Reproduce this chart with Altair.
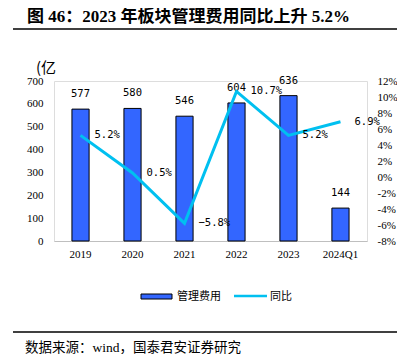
import altair as alt
import pandas as pd

years = ["2019", "2020", "2021", "2022", "2023", "2024Q1"]
expense = [577, 580, 546, 604, 636, 144]
yoy = [5.2, 0.5, -5.8, 10.7, 5.2, 6.9]
left_ticks = [0, 100, 200, 300, 400, 500, 600, 700]
right_ticks = [-8, -6, -4, -2, 0, 2, 4, 6, 8, 10, 12]

title_text = "图 46：2023 年板块管理费用同比上升 5.2%"
source_text = "数据来源：wind，国泰君安证券研究"
unit_text = "(亿"

df = pd.DataFrame({"year": years, "expense": expense, "yoy": yoy})

BAR = "#3366FF"
LINE = "#00C0F0"
SERIF = "Liberation Serif, Times New Roman, serif"
MONO = "DejaVu Sans Mono, monospace"
CJK = "Liberation Serif, Noto Sans CJK SC, sans-serif"

xenc = alt.X("year:N", sort=years, title=None,
             scale=alt.Scale(paddingInner=0.67, paddingOuter=0.345),
             axis=alt.Axis(labelAngle=0, ticks=False, domainColor="#BFBFBF",
                           labelFont=SERIF, labelFontSize=11, labelColor="#000",
                           labelPadding=7))

yl = alt.Y("expense:Q", title=None,
           scale=alt.Scale(domain=[0, 700], nice=False),
           axis=alt.Axis(values=left_ticks, grid=False, ticks=False, domain=False,
                         labelFont=SERIF, labelFontSize=11, labelColor="#000",
                         labelPadding=11, orient="left"))

yr = alt.Y("yoy:Q", title=None,
           scale=alt.Scale(domain=[-8, 12], nice=False),
           axis=alt.Axis(values=right_ticks, grid=False, ticks=False, domain=False,
                         labelFont=SERIF, labelFontSize=11, labelColor="#000",
                         labelPadding=10, orient="right",
                         labelExpr="datum.value + '%'"))

base = alt.Chart(df)

bars = base.mark_bar(color=BAR, stroke="#000", strokeWidth=1).encode(x=xenc, y=yl)
bar_labels = base.mark_text(font=MONO, fontSize=10.5, baseline="middle", dy=-15,
                            color="#000").encode(
    x=xenc, y=yl, text=alt.Text("expense:Q"))

line = base.mark_line(color=LINE, strokeWidth=3).encode(x=xenc, y=yr)
line_labels = base.transform_calculate(
    lab="format(datum.yoy, '.1f') + '%'"
).mark_text(font=MONO, fontSize=10.5, align="left", baseline="middle", dx=14,
            color="#000").encode(x=xenc, y=yr, text="lab:N")

left_layer = alt.layer(bars, bar_labels)
right_layer = alt.layer(line, line_labels)


def txt(s, x, y, size, font, weight="normal", align="left"):
    return alt.Chart(pd.DataFrame({"t": [s]})).mark_text(
        font=font, fontSize=size, fontWeight=weight, align=align,
        baseline="middle", color="#000").encode(
        text="t:N", x=alt.value(x), y=alt.value(y))


def hrule(x1, x2, y, color="#000", w=1.5):
    return alt.Chart(pd.DataFrame({"a": [0]})).mark_rule(
        color=color, strokeWidth=w).encode(
        x=alt.value(x1), x2=alt.value(x2), y=alt.value(y))


title = txt(title_text, -27, -64, 17, CJK, weight="bold")
unit = txt(unit_text, -18, -13, 15, "Noto Sans CJK SC")
top_rule = hrule(-41, 344, -52)
bot_rule = hrule(-41, 344, 251)
source = txt(source_text, -29, 267, 13.5, CJK)

leg_rect = alt.Chart(pd.DataFrame({"a": [0]})).mark_rect(
    color=BAR, stroke="#000", strokeWidth=1).encode(
    x=alt.value(87), x2=alt.value(118), y=alt.value(213), y2=alt.value(218))
leg_t1 = txt("管理费用", 123, 216, 11, "Noto Sans CJK SC")
leg_line = hrule(180, 213, 215, color=LINE, w=2.5)
leg_t2 = txt("同比", 216, 216, 11, "Noto Sans CJK SC")

chart = alt.layer(
    left_layer, right_layer,
    title, unit, top_rule, bot_rule, source,
    leg_rect, leg_t1, leg_line, leg_t2,
).resolve_scale(y="independent").properties(
    width=313, height=160,
    padding={"left": 46, "top": 73, "right": 30, "bottom": 113},
    autosize=alt.AutoSizeParams(type="none"),
).configure_view(stroke=None).configure(background="white")

chart.save("out.html", embed_options={"renderer": "svg", "actions": False})
